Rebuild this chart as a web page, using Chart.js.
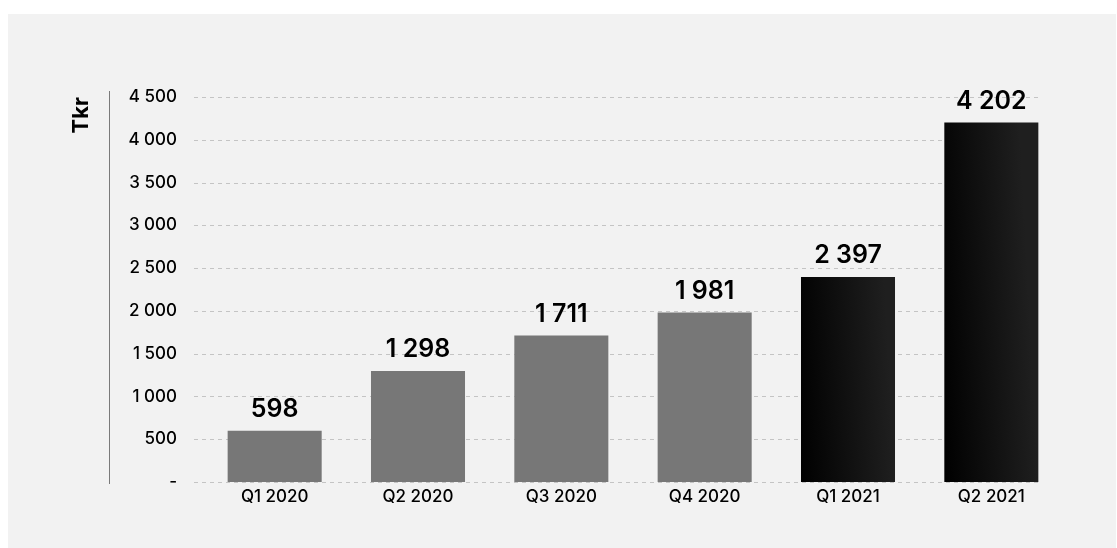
<!DOCTYPE html>
<html>
<head>
<meta charset="utf-8">
<script src="https://cdn.jsdelivr.net/npm/chart.js@4"></script>
<style>
  html, body { margin: 0; padding: 0; background: #ffffff; }
  #wrap { width: 1117px; height: 548px; position: relative; }
</style>
</head>
<body>
<div id="wrap"><canvas id="chart"></canvas></div>
<script>
// values
const quarters = ['Q1 2020', 'Q2 2020', 'Q3 2020', 'Q4 2020', 'Q1 2021', 'Q2 2021'];
const revenue = [598, 1298, 1711, 1981, 2397, 4202];
const isNewYear = [false, false, false, false, true, true];
const yTicks = [0, 500, 1000, 1500, 2000, 2500, 3000, 3500, 4000, 4500];

const FONT = 'Inter, "Noto Sans", sans-serif';

// 4202 -> "4 202", 0 -> "-"
function fmt(v) {
  if (v === 0) return '-';
  return String(v).replace(/\B(?=(\d{3})+(?!\d))/g, ' ');
}

function barColor(ctx) {
  if (!isNewYear[ctx.dataIndex]) return '#777777';
  const chart = ctx.chart;
  const xs = chart.scales.x, ys = chart.scales.y;
  if (!chart.chartArea || !xs || !ys) return '#111111';
  const cx = xs.getPixelForValue(ctx.dataIndex);
  const half = 47;
  const y0 = ys.getPixelForValue(0);
  if (![cx, y0].every(Number.isFinite)) return '#111111';
  // left-to-right with a slight tilt upwards
  const g = chart.ctx.createLinearGradient(cx - half, y0, cx + half, y0 - 5);
  g.addColorStop(0, '#000000');
  g.addColorStop(1, '#1f1f1f');
  return g;
}

// grey panel, dashed grid, the vertical rule and the value labels
const decor = {
  id: 'decor',
  beforeDraw(chart) {
    const c = chart.ctx;
    c.save();
    c.fillStyle = '#f2f2f2';
    c.fillRect(8, 14, 1108, 534);
    const y = chart.scales.y;
    c.strokeStyle = '#c4c4c4';
    c.lineWidth = 1;
    c.setLineDash([4, 4]);
    yTicks.forEach(t => {
      const py = Math.round(y.getPixelForValue(t)) + 0.5;
      c.beginPath();
      c.moveTo(194, py);
      c.lineTo(1038, py);
      c.stroke();
    });
    c.setLineDash([]);
    c.strokeStyle = '#7a7a7a';
    c.beginPath();
    c.moveTo(109.5, 91);
    c.lineTo(109.5, 484);
    c.stroke();
    c.restore();
  },
  afterDatasetsDraw(chart) {
    const c = chart.ctx;
    const meta = chart.getDatasetMeta(0);
    c.save();
    c.fillStyle = '#000000';
    c.font = '600 25px ' + FONT;
    c.textAlign = 'center';
    c.textBaseline = 'bottom';
    meta.data.forEach((bar, i) => {
      c.fillText(fmt(revenue[i]), bar.x, bar.y - 9);
    });
    c.restore();
  }
};

new Chart(document.getElementById('chart'), {
  type: 'bar',
  data: {
    labels: quarters,
    datasets: [{
      data: revenue,
      backgroundColor: barColor,
      borderWidth: 0,
      categoryPercentage: 1,
      barPercentage: 0.656
    }]
  },
  options: {
    responsive: true,
    maintainAspectRatio: false,
    animation: false,
    layout: { padding: { left: 60, right: 54, top: 97, bottom: 36 } },
    plugins: { legend: { display: false }, tooltip: { enabled: false } },
    scales: {
      x: {
        grid: { display: false, drawTicks: false },
        border: { display: false },
        ticks: {
          color: '#000000',
          padding: 5,
          maxRotation: 0,
          font: { family: FONT, size: 17, weight: '500' }
        },
        afterFit(scale) { scale.height = 30; }
      },
      y: {
        min: 0,
        max: 4500,
        grid: { display: false, drawTicks: false },
        border: { display: false },
        afterBuildTicks(scale) { scale.ticks = yTicks.map(v => ({ value: v })); },
        ticks: {
          color: '#000000',
          padding: 26,
          callback: v => fmt(v),
          font: { family: FONT, size: 17, weight: '500' }
        },
        title: {
          display: true,
          text: 'Tkr',
          align: 'end',
          color: '#000000',
          padding: { top: 8, bottom: 0 },
          font: { family: FONT, size: 22, weight: '700' }
        },
        afterFit(scale) { scale.width = 143; }
      }
    }
  },
  plugins: [decor]
});
</script>
</body>
</html>
